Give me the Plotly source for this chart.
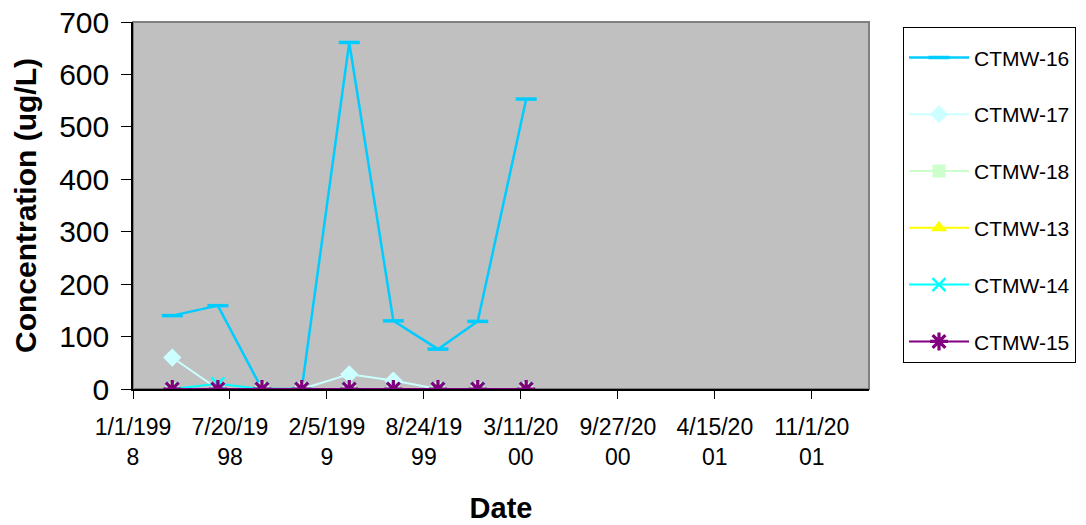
import plotly.graph_objects as go
import pandas as pd

# ---- data ----
dates = ["1998-03-23", "1998-06-25", "1998-09-24", "1998-12-15", "1999-03-23",
         "1999-06-22", "1999-09-22", "1999-12-13", "2000-03-22"]
ctmw16 = [140, 159, 0, 0, 661, 130, 76, 129, 553]
ctmw17 = [60, 0, 0, 0, 28, 16, 0, 0, 0]
ctmw18 = [0, 0, 0, 0, 0, 0, 0, 0, 0]
ctmw13 = [0, 0, 0, 0, 0, 0, 0, 0, 0]
ctmw14 = [0, 10, 0, 0, 0, 0, 0, 0, 0]
ctmw15 = [0, 0, 0, 0, 0, 0, 0, 0, 0]

tick_dates = ["1998-01-01", "1998-07-20", "1999-02-05", "1999-08-24",
              "2000-03-11", "2000-09-27", "2001-04-15", "2001-11-01"]
tick_labels = ["1/1/199<br>8", "7/20/19<br>98", "2/5/199<br>9", "8/24/19<br>99",
               "3/11/20<br>00", "9/27/20<br>00", "4/15/20<br>01", "11/1/20<br>01"]

FONT = "Liberation Sans, Arial, sans-serif"

series = [
    ("CTMW-16", ctmw16, "#00CCFF", "line-ew", 15, 3.5, 2.5),
    ("CTMW-17", ctmw17, "#CCFFFF", "diamond", 14, 0, 2),
    ("CTMW-18", ctmw18, "#CCFFCC", "square", 13, 0, 2),
    ("CTMW-13", ctmw13, "#FFFF00", "triangle-up", 14, 0, 2),
    ("CTMW-14", ctmw14, "#00FFFF", "x-thin", 13, 2.5, 2),
    ("CTMW-15", ctmw15, "#800080", "asterisk", 15, 3.2, 2),
]

fig = go.Figure()
for i, (name, vals, color, sym, size, lw, linew) in enumerate(series):
    fig.add_trace(go.Scatter(
        x=pd.to_datetime(dates), y=vals, name=name, mode="lines+markers",
        legendgroup=f"g{i}",
        line=dict(color=color, width=linew),
        marker=dict(symbol=sym, size=size, color=color,
                    line=dict(color=color, width=lw)),
    ))

fig.update_layout(
    width=1086, height=525,
    margin=dict(l=133, r=217, t=22, b=136, autoexpand=False),
    paper_bgcolor="white", plot_bgcolor="#C0C0C0",
    font=dict(family=FONT, color="black"),
    showlegend=True,
    legend=dict(
        x=1.0462, y=0.986, xanchor="left", yanchor="top",
        bordercolor="black", borderwidth=1, bgcolor="white",
        font=dict(family=FONT, size=21), tracegroupgap=26.5,
        itemwidth=60,
        title=dict(text="&nbsp;", font=dict(size=7)),
    ),
    xaxis=dict(
        range=[pd.Timestamp("1998-01-01"), pd.Timestamp("1998-01-01") + pd.Timedelta(days=1518)],
        tickvals=pd.to_datetime(tick_dates), ticktext=tick_labels,
        tickfont=dict(size=23, family=FONT), ticks="outside", ticklen=8,
        tickcolor="black", ticklabelstandoff=9, ticklabeloverflow="allow",
        showline=True, linecolor="black", linewidth=1.5,
        showgrid=False, zeroline=False, automargin=False,
        title=dict(text="<b>Date</b>", font=dict(size=29, family=FONT), standoff=28),
    ),
    yaxis=dict(
        range=[0, 700], dtick=100, tickfont=dict(size=30, family=FONT),
        ticks="outside", ticklen=10, tickcolor="black", ticklabelstandoff=6,
        ticklabeloverflow="allow",
        showline=True, linecolor="black", linewidth=1.5,
        showgrid=False, zeroline=False, automargin=False,
        title=dict(text="<b>Concentration (ug/L)</b>", font=dict(size=30, family=FONT), standoff=14),
    ),
    shapes=[dict(type="rect", xref="paper", yref="paper", x0=0, x1=1, y0=0, y1=1,
                 line=dict(color="#808080", width=2), layer="below")],
)

fig.write_html("out.html", config={"displayModeBar": False},
               post_script="document.body.style.margin='0';document.body.style.overflow='hidden';")
